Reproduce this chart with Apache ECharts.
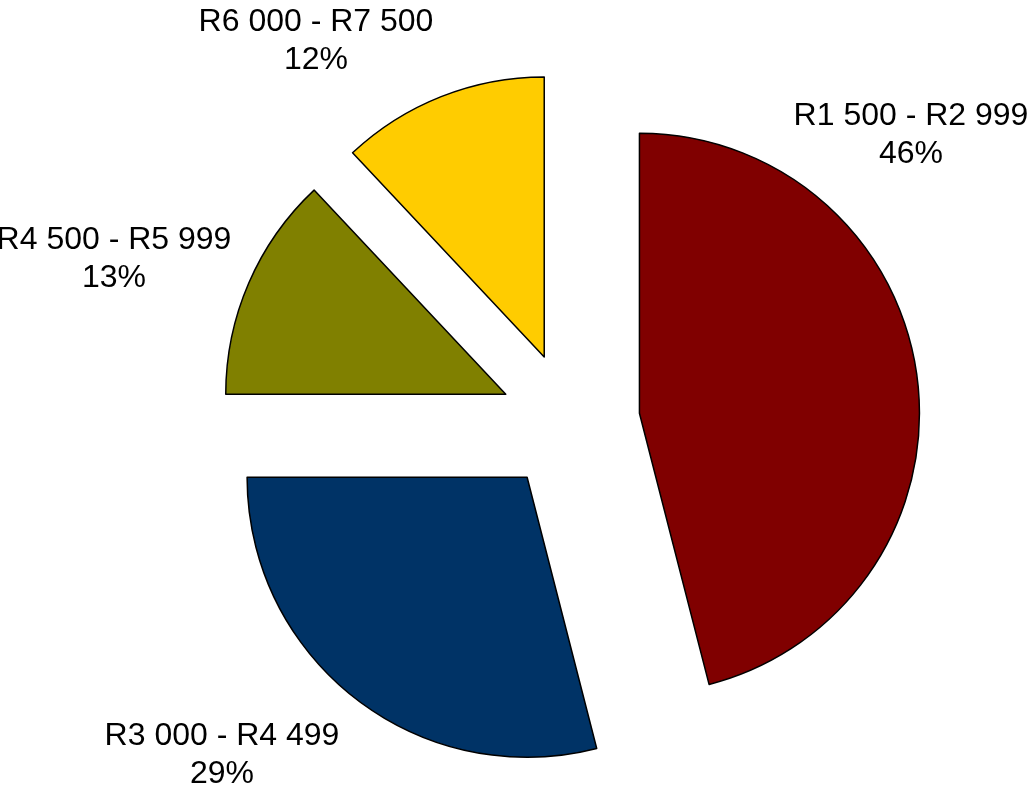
<!DOCTYPE html>
<html>
<head>
<meta charset="utf-8">
<script src="https://cdn.jsdelivr.net/npm/echarts@6/dist/echarts.min.js"></script>
<style>
  html, body { margin: 0; padding: 0; background: #fff; }
  #chart { width: 1032px; height: 789px; }
</style>
</head>
<body>
<div id="chart"></div>
<script>
// income bands and their share (%)
var bands = ['R1 500 - R2 999', 'R3 000 - R4 499', 'R4 500 - R5 999', 'R6 000 - R7 500'];
var shares = [46, 29, 13, 12];
var colors = ['#800000', '#003366', '#808000', '#ffcc00'];

// where the text labels sit (centre of the two-line block)
var labelPos = [[911, 135], [222, 755], [114, 259], [316, 41]];

var myChart = echarts.init(document.getElementById('chart'));

var data = [];
var labels = [];
for (var i = 0; i < bands.length; i++) {
    data.push({
        name: bands[i],
        value: shares[i],
        selected: true,
        itemStyle: { color: colors[i] }
    });
    labels.push({
        type: 'text',
        x: labelPos[i][0],
        y: labelPos[i][1],
        z: 10,
        style: {
            text: bands[i] + '\n' + shares[i] + '%',
            align: 'center',
            verticalAlign: 'middle',
            font: '32px "Liberation Sans"',
            lineHeight: 38,
            fill: '#000'
        }
    });
}

var option = {
    animation: false,
    graphic: labels,
    series: [
        {
            type: 'pie',
            center: [570, 422],
            radius: 280,
            startAngle: 90,
            clockwise: true,
            selectedMode: 'multiple',
            selectedOffset: 70,
            avoidLabelOverlap: false,
            data: data,
            itemStyle: {
                borderColor: '#000',
                borderWidth: 1.5
            },
            select: {
                itemStyle: {
                    borderColor: '#000',
                    borderWidth: 1.5
                }
            },
            emphasis: { disabled: true },
            label: { show: false },
            labelLine: { show: false }
        }
    ]
};
myChart.setOption(option);
window.addEventListener('resize', function () {
    myChart.resize();
});
</script>
</body>
</html>
